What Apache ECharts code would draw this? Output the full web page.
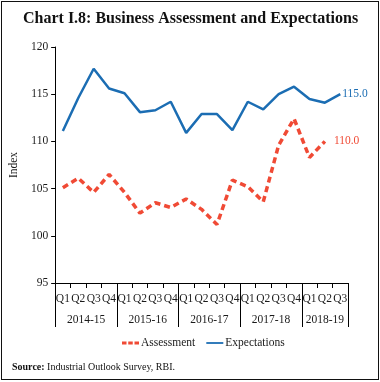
<!DOCTYPE html>
<html>
<head>
<meta charset="utf-8">
<script src="https://cdn.jsdelivr.net/npm/echarts@6/dist/echarts.min.js"></script>
<style>
html,body{margin:0;padding:0;background:#fff;}
#frame{position:absolute;left:1px;top:1px;width:378px;height:379px;border:1.5px solid #111;box-sizing:border-box;}
#chart{position:absolute;left:0;top:0;width:380px;height:382px;}
</style>
</head>
<body>
<div id="frame"></div>
<div id="chart"></div>
<script>
var quarters = ['Q1','Q2','Q3','Q4','Q1','Q2','Q3','Q4','Q1','Q2','Q3','Q4','Q1','Q2','Q3','Q4','Q1','Q2','Q3'];
var years = ['2014-15','2015-16','2016-17','2017-18','2018-19'];
var quartersPerYear = [4,4,4,4,3];
var assessment = [105.1,106.1,104.6,106.5,104.6,102.4,103.5,103.0,103.9,102.8,101.2,105.9,105.2,103.6,109.6,112.4,108.3,110.0,null];
var expectations = [111.1,114.6,117.7,115.6,115.1,113.1,113.3,114.2,110.9,112.9,112.9,111.2,114.2,113.4,115.0,115.8,114.5,114.1,115.0];
var yTicks = {min:95, max:120, interval:5};

var FONT = 'Liberation Serif';
var TXT = '#1a1a1a';
var RED = '#f04a35';
var BLUE = '#1b6db3';

// year start indices and label positions
var yearStart = [], s = 0;
for (var k = 0; k < years.length; k++) { yearStart.push(s); s += quartersPerYear[k]; }
var yearLabelAt = {};
for (var k = 0; k < years.length; k++) {
  var n = quartersPerYear[k];
  var idx = yearStart[k] + Math.floor((n - 1) / 2);
  yearLabelAt[idx] = { text: years[k], shift: n % 2 === 0 };
}

var chart = echarts.init(document.getElementById('chart'));
chart.setOption({
  animation: false,
  title: {
    text: 'Chart I.8: Business Assessment and Expectations',
    left: 23, top: 11, padding: 0,
    textStyle: { fontFamily: FONT, fontWeight: 'bold', fontSize: 16, color: '#111' }
  },
  legend: {
    top: 332, left: 117,
    itemWidth: 17, itemHeight: 3, itemGap: 11,
    textStyle: { fontFamily: FONT, fontSize: 11.5, color: TXT, padding: [0, 0, 0, -3] },
    data: [
      { name: 'Assessment', icon: 'path://M0,0H4.5V3H0Z M6.25,0H10.75V3H6.25Z M12.5,0H17V3H12.5Z', itemStyle: { color: RED } },
      { name: 'Expectations', icon: 'path://M0,0H19V2H0Z', itemStyle: { color: BLUE } }
    ]
  },
  graphic: [{
    type: 'text', left: 12, top: 362,
    style: {
      text: '{b|Source:} Industrial Outlook Survey, RBI.',
      rich: {
        b: { fontFamily: FONT, fontWeight: 'bold', fontSize: 10, fill: '#111' }
      },
      fontFamily: FONT, fontSize: 10, fill: '#111'
    }
  }],
  grid: { left: 51, right: 32, top: 47, bottom: 99 },
  xAxis: [{
    type: 'category', data: quarters, boundaryGap: true, position: 'bottom',
    axisLine: { lineStyle: { color: '#000', width: 1 } },
    axisTick: { show: true, interval: 0, length: 5, lineStyle: { color: '#000' } },
    axisLabel: { interval: 0, margin: 10, fontFamily: FONT, fontSize: 11.5, color: TXT }
  }, {
    type: 'category', data: quarters, boundaryGap: true, position: 'bottom',
    axisLine: { show: true, lineStyle: { color: '#000', width: 1 } },
    axisTick: {
      show: true, length: 44, lineStyle: { color: '#000', width: 1 },
      interval: function (i) { return yearStart.indexOf(i) >= 0; }
    },
    axisLabel: {
      margin: 31, fontFamily: FONT, fontSize: 11.5, color: TXT,
      interval: function (i) { return !!yearLabelAt[i]; },
      formatter: function (v, i) {
        var y = yearLabelAt[i];
        if (!y) return '';
        return y.shift ? '{s|' + y.text + '}' : y.text;
      },
      rich: { s: { padding: [0, 0, 0, 15.6], fontFamily: FONT, fontSize: 11.5, color: TXT } }
    }
  }],
  yAxis: {
    type: 'value', min: yTicks.min, max: yTicks.max, interval: yTicks.interval,
    name: 'Index', nameLocation: 'middle', nameGap: 33, nameRotate: 90,
    nameTextStyle: { fontFamily: FONT, fontSize: 11.5, color: TXT },
    axisLine: { show: true, lineStyle: { color: '#000' } },
    axisTick: { show: true, length: 4, lineStyle: { color: '#000' } },
    axisLabel: { margin: 7, fontFamily: FONT, fontSize: 11.5, color: TXT },
    splitLine: { show: false }
  },
  series: [{
    name: 'Assessment', type: 'line', data: assessment,
    symbol: 'none', color: RED,
    lineStyle: { width: 3.5, type: [6, 4], color: RED },
    endLabel: {
      show: true, distance: 9, fontFamily: FONT, fontSize: 11.5, color: RED,
      formatter: function (p) { return Number(p.value).toFixed(1); }
    }
  }, {
    name: 'Expectations', type: 'line', data: expectations,
    symbol: 'none', color: BLUE,
    lineStyle: { width: 2.5, color: BLUE },
    endLabel: {
      show: true, distance: 2, fontFamily: FONT, fontSize: 11.5, color: BLUE,
      formatter: function (p) { return Number(p.value).toFixed(1); }
    }
  }]
});
</script>
</body>
</html>
